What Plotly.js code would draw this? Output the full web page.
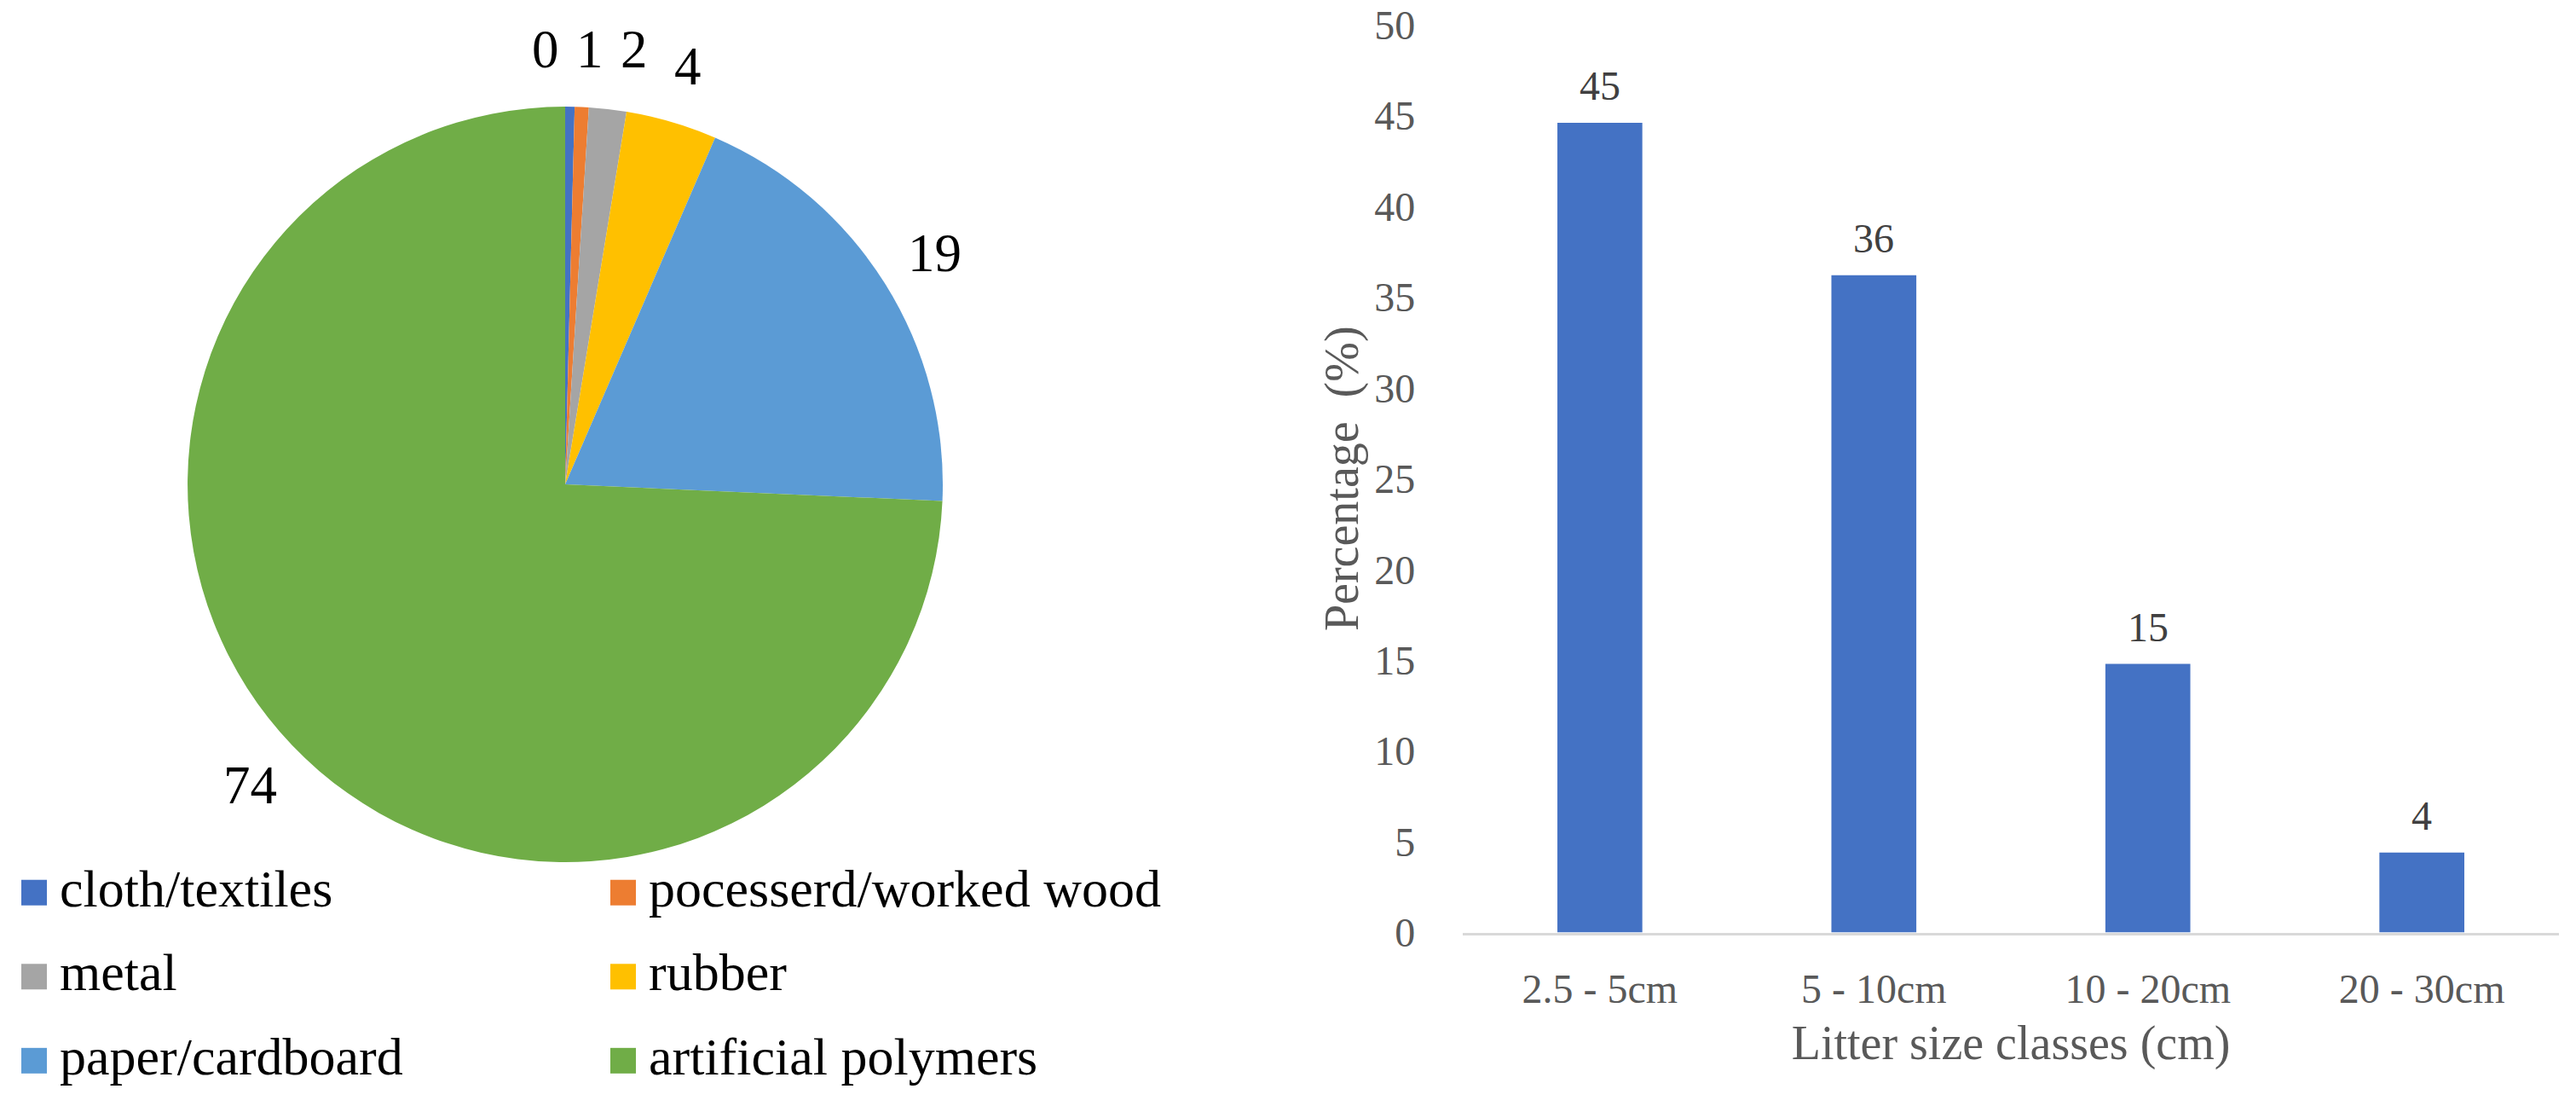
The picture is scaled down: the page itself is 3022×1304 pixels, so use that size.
<!DOCTYPE html>
<html>
<head>
<meta charset="utf-8">
<script src="https://cdn.plot.ly/plotly-3.0.1.min.js"></script>
<style>html,body{margin:0;padding:0;background:#fff;}#chart{width:3022px;height:1304px;}</style>
</head>
<body>
<div id="chart"></div>
<script>
// ---- data ----
const materials = ["cloth/textiles", "pocesserd/worked wood", "metal", "rubber", "paper/cardboard", "artificial polymers"];
const materialShares = [0.4, 0.6, 1.6, 3.9, 19.2, 74.3];
const materialColors = ["#4472C4", "#ED7D31", "#A5A5A5", "#FFC000", "#5B9BD5", "#70AD47"];

const sizeClasses = ["2.5 - 5cm", "5 - 10cm", "10 - 20cm", "20 - 30cm"];
const sizeShares = [44.6, 36.2, 14.8, 4.4];
const yTickValues = [0, 5, 10, 15, 20, 25, 30, 35, 40, 45, 50];

const serif = "Liberation Serif";
const W = 3022, H = 1304;
const margin = { l: 20, r: 0, t: 0, b: 0 };
const pieDomainX = [0.0666, 0.3618];
const pieDomainY = [0.2247, 0.9041];

const pie = {
  type: "pie",
  labels: materials.map(m => '<span style="font-size:62px">' + m + '</span>'),
  values: materialShares,
  sort: false,
  direction: "clockwise",
  rotation: 0,
  marker: { colors: materialColors, line: { width: 0 } },
  textinfo: "none",
  domain: { x: pieDomainX, y: pieDomainY },
  showlegend: true,
  hoverinfo: "label+value"
};

// Pie value labels: placed just outside each slice along its mid-angle,
// crowded neighbours spread horizontally (as the source chart does).
const total = materialShares.reduce((a, b) => a + b, 0);
const plotW = W - margin.l - margin.r, plotH = H - margin.t - margin.b;
const pieR = Math.min((pieDomainX[1] - pieDomainX[0]) * plotW, (pieDomainY[1] - pieDomainY[0]) * plotH) / 2;
const labelR = pieR + 68;
const labelGap = 52;
let cum = 0;
const pieLabelPos = materialShares.map(v => {
  const a = 2 * Math.PI * (cum + v / 2) / total;
  cum += v;
  return { dx: labelR * Math.sin(a), dy: labelR * Math.cos(a) };
});
// cluster crowded labels
let clusters = [], cur = [0];
for (let i = 1; i < pieLabelPos.length; i++) {
  const p = pieLabelPos[i], q = pieLabelPos[i - 1];
  if (Math.abs(p.dx - q.dx) < labelGap && Math.abs(p.dy - q.dy) < 40) cur.push(i);
  else { clusters.push(cur); cur = [i]; }
}
clusters.push(cur);
clusters.forEach(c => {
  if (c.length < 2) return;
  const mx = c.reduce((s, i) => s + pieLabelPos[i].dx, 0) / c.length;
  const my = c.reduce((s, i) => s + pieLabelPos[i].dy, 0) / c.length;
  c.forEach((i, k) => { pieLabelPos[i].dx = mx + (k - (c.length - 1) / 2) * labelGap; pieLabelPos[i].dy = my; });
});
const pieCx = (pieDomainX[0] + pieDomainX[1]) / 2, pieCy = (pieDomainY[0] + pieDomainY[1]) / 2;
const pieAnnotations = materialShares.map((v, i) => ({
  xref: "paper", yref: "paper", x: pieCx, y: pieCy,
  xshift: pieLabelPos[i].dx, yshift: pieLabelPos[i].dy,
  xanchor: "center", yanchor: "middle",
  text: String(Math.round(v)), showarrow: false,
  font: { family: serif, size: 63, color: "#000000" }
}));

const bars = {
  type: "bar",
  x: sizeClasses,
  y: sizeShares,
  width: 0.31,
  marker: { color: "#4472C4" },
  xaxis: "x",
  yaxis: "y",
  showlegend: false,
  hoverinfo: "x+y"
};

const barAnnotations = sizeClasses.map((c, i) => ({
  x: c, y: sizeShares[i], xref: "x", yref: "y",
  text: String(Math.round(sizeShares[i])),
  showarrow: false, yanchor: "middle", yshift: 43,
  font: { family: serif, size: 48, color: "#404040" }
}));

const layout = {
  width: W, height: H,
  margin: margin,
  paper_bgcolor: "#ffffff", plot_bgcolor: "#ffffff",
  font: { family: serif, color: "#595959" },
  xaxis: {
    domain: [0.565, 0.9933],
    anchor: "y",
    showgrid: false, zeroline: false,
    showline: true, linecolor: "#d9d9d9", linewidth: 3,
    ticks: "",
    tickfont: { family: serif, size: 48, color: "#595959" },
    ticklabelstandoff: 22,
    title: { text: "Litter size classes (cm)", font: { family: serif, size: 56, color: "#595959" }, standoff: 18 }
  },
  yaxis: {
    domain: [0.1614, 0.9778],
    anchor: "x",
    range: [0, 50],
    tickvals: yTickValues,
    showgrid: false, zeroline: false, showline: false,
    ticks: "",
    tickfont: { family: serif, size: 48, color: "#595959" },
    ticklabelstandoff: 55,
    title: { text: "Percentage  (%)", font: { family: serif, size: 56, color: "#595959" }, standoff: 0 }
  },
  legend: {
    orientation: "h",
    x: -0.00333, xanchor: "left",
    y: 0.2485, yanchor: "top",
    font: { family: serif, size: 73.5, color: "#000000" },
    itemwidth: 50,
    entrywidth: 626,
    entrywidthmode: "pixels",
    bgcolor: "rgba(0,0,0,0)",
    borderwidth: 0,
    itemclick: false, itemdoubleclick: false
  },
  annotations: pieAnnotations.concat(barAnnotations)
};

Plotly.newPlot("chart", [pie, bars], layout, { displayModeBar: false, staticPlot: true }).then(function () {
  document.querySelectorAll("path.legendpie").forEach(function (p) {
    p.setAttribute("d", "M15,27.5H-15V-2.5H15Z");
  });
});
</script>
</body>
</html>
